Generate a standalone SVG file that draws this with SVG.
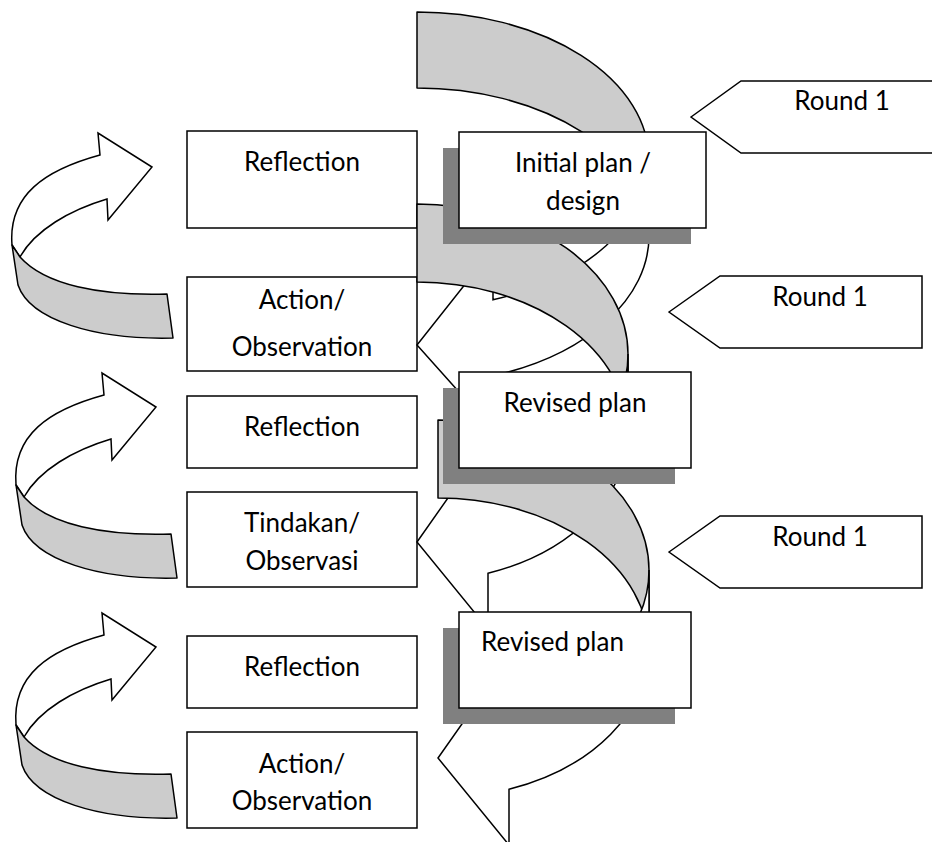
<svg xmlns="http://www.w3.org/2000/svg" width="932" height="842" viewBox="0 0 932 842">
<defs>
<style>
.box{fill:#fff;stroke:#000;stroke-width:1.5}
.shadow{fill:#808080;stroke:none}
.band{fill:#cccccc;stroke:#000;stroke-width:1.5;stroke-linejoin:round}
.front{fill:#fff;stroke:#000;stroke-width:1.5;stroke-linejoin:miter}
.t{font-family:Lato,"Liberation Sans",sans-serif;font-size:26px;fill:#000;text-anchor:middle}
.tl{font-family:Lato,"Liberation Sans",sans-serif;font-size:26px;fill:#000}
</style>
<g id="leftArrowShape">
<path class="front" d="M100,155 L98,133 L152,167 L108,220 L107,199 C70,210 35,230 20,257 L12,245 C8,195 45,170 100,155 Z"/>
<path class="band" d="M12,245 L20,257 C45,285 100,296 167,294 L173,338 C95,340 30,320 18,285 Z"/>
</g>
<g id="bigArrowShape">
<path class="band" d="M417,204 A211 150 0 0 1 628,354 L628,432 A211 150 0 0 0 417,282 Z"/>
<path class="front" d="M628,432 A211 150 0 0 1 488,573.3 L488,629 L417,542 L488,441 L488,495.3 A211 150 0 0 0 628,354 Z"/>
</g>
</defs>

<g id="reflection1"><rect class="box" x="187" y="131" width="230" height="97"/><text class="t" x="302" y="171">Reflection</text></g>
<g id="action1"><rect class="box" x="187" y="277" width="230" height="94"/><text class="t" x="302" y="309">Action/</text><text class="t" x="302" y="356">Observation</text></g>
<g id="reflection2"><rect class="box" x="187" y="396" width="230" height="72"/><text class="t" x="302" y="436">Reflection</text></g>
<g id="tindakan"><rect class="box" x="187" y="492" width="230" height="95"/><text class="t" x="302" y="532">Tindakan/</text><text class="t" x="302" y="570">Observasi</text></g>
<g id="reflection3"><rect class="box" x="187" y="636" width="230" height="72"/><text class="t" x="302" y="676">Reflection</text></g>
<g id="action3"><rect class="box" x="187" y="732" width="230" height="96"/><text class="t" x="302" y="773">Action/</text><text class="t" x="302" y="810">Observation</text></g>

<g id="connectors">
<use href="#leftArrowShape"/>
<use href="#leftArrowShape" transform="translate(4,240)"/>
<use href="#leftArrowShape" transform="translate(4,480)"/>
<g id="cycle1">
<path class="band" d="M417,12 A232 148 0 0 1 649,160 L649,236 A232 148 0 0 0 417,88 Z"/>
<path class="front" d="M649,236 A232 148 0 0 1 493,375.8 L493,430 L417,345 L493,249 L493,299.8 A232 148 0 0 0 649,160 Z"/>
</g>
<g id="cycle2"><use href="#bigArrowShape"/></g>
</g>

<g id="initialPlan"><rect class="shadow" x="443" y="148" width="248" height="96"/><rect class="box" x="459" y="132" width="247" height="96"/><text class="t" x="583" y="172">Initial plan /</text><text class="t" x="583" y="210">design</text></g>

<g id="cycle3"><use href="#bigArrowShape" transform="translate(21,216)"/></g>

<g id="revisedPlan1"><rect class="shadow" x="443" y="388" width="232" height="96"/><rect class="box" x="459" y="372" width="232" height="96"/><text class="t" x="575" y="412">Revised plan</text></g>
<g id="revisedPlan2"><rect class="shadow" x="443" y="628" width="232" height="96"/><rect class="box" x="459" y="612" width="232" height="96"/><text class="tl" x="481" y="651">Revised plan</text></g>

<g id="round1a"><path class="box" d="M691,117 L741,81 L945,81 L945,153 L741,153 Z"/><text class="t" x="842" y="110">Round 1</text></g>
<g id="round1b"><path class="box" d="M669,312 L720,276 L922,276 L922,348 L720,348 Z"/><text class="t" x="820" y="306">Round 1</text></g>
<g id="round1c"><path class="box" d="M669,552 L720,516 L922,516 L922,588 L720,588 Z"/><text class="t" x="820" y="546">Round 1</text></g>
</svg>
